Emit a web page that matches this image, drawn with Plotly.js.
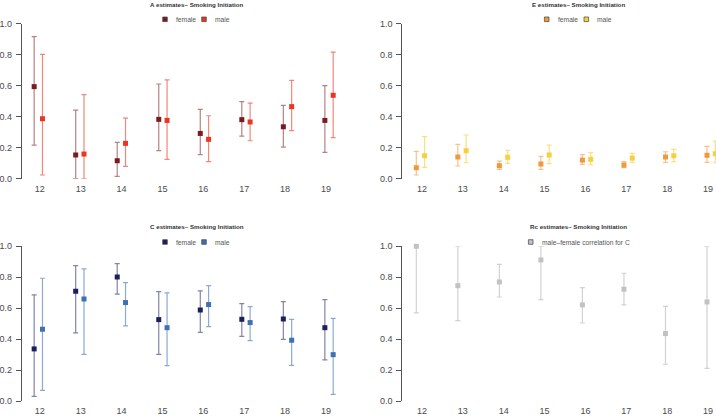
<!DOCTYPE html>
<html>
<head>
<meta charset="utf-8">
<script src="https://cdn.plot.ly/plotly-3.0.1.min.js"></script>
<style>html,body{margin:0;padding:0;background:#fff;}#chart{width:716px;height:418px;}</style>
</head>
<body>
<div id="chart"></div>
<script>
// ---- data ----
const ages = ['12','13','14','15','16','17','18','19'];

const aFemale   = [0.594,0.153,0.116,0.383,0.292,0.381,0.335,0.376];
const aFemaleLo = [0.217,0.000,0.015,0.181,0.155,0.275,0.204,0.170];
const aFemaleHi = [0.916,0.443,0.234,0.611,0.447,0.497,0.473,0.600];
const aMale     = [0.387,0.159,0.228,0.376,0.254,0.366,0.465,0.538];
const aMaleLo   = [0.024,0.000,0.080,0.125,0.110,0.245,0.310,0.265];
const aMaleHi   = [0.802,0.542,0.391,0.637,0.406,0.488,0.634,0.817];

const eFemale   = [0.071,0.140,0.084,0.095,0.120,0.088,0.140,0.151];
const eFemaleLo = [0.024,0.082,0.060,0.060,0.092,0.071,0.105,0.105];
const eFemaleHi = [0.176,0.222,0.114,0.144,0.155,0.110,0.174,0.209];
const eMale     = [0.148,0.181,0.138,0.153,0.125,0.133,0.148,0.161];
const eMaleLo   = [0.073,0.103,0.099,0.097,0.090,0.105,0.110,0.103];
const eMaleHi   = [0.271,0.282,0.183,0.217,0.168,0.163,0.189,0.243];

const cFemale   = [0.338,0.710,0.802,0.527,0.589,0.529,0.531,0.475];
const cFemaleLo = [0.032,0.441,0.692,0.303,0.445,0.419,0.400,0.267];
const cFemaleHi = [0.686,0.875,0.888,0.708,0.712,0.630,0.643,0.656];
const cMale     = [0.465,0.660,0.637,0.475,0.624,0.508,0.394,0.301];
const cMaleLo   = [0.071,0.303,0.486,0.230,0.482,0.391,0.232,0.045];
const cMaleHi   = [0.794,0.854,0.766,0.699,0.746,0.611,0.529,0.535];

const rc   = [1.000,0.746,0.770,0.912,0.622,0.723,0.437,0.641];
const rcLo = [0.570,0.520,0.673,0.656,0.505,0.622,0.239,0.213];
const rcHi = [1.000,1.000,0.884,1.000,0.733,0.826,0.613,1.000];

const yTicks = [0,0.2,0.4,0.6,0.8,1.0];

// ---- styling ----
const W = 716, H = 418;
const px = v => v / W;
const py = v => 1 - v / H;
const FONT = 'Liberation Sans, Arial, Helvetica, sans-serif';

const idx = ages.map((_, i) => i);
const xF = idx.slice();
const xM = idx.map(i => i + 0.2);
const tickPos = idx.map(i => 0.137 + 0.984 * i);

function series(x, y, lo, hi, col, errCol, xa, ya, name) {
  return {
    type: 'scatter', mode: 'markers', name: name,
    x: x, y: y, xaxis: xa, yaxis: ya, cliponaxis: false, showlegend: false,
    marker: {symbol: 'square', size: 5, color: col},
    error_y: {type: 'data', symmetric: false,
      array: y.map((v, i) => hi[i] - v),
      arrayminus: y.map((v, i) => v - lo[i]),
      color: errCol, thickness: 1.2, width: 2.5},
    hoverinfo: 'x+y'
  };
}

const C = {
  aF: '#7a1c1f', aFe: 'rgba(122,28,31,0.55)',
  aM: '#ea3522', aMe: 'rgba(234,53,34,0.6)',
  eF: '#f0993c', eFe: 'rgba(240,153,60,0.6)',
  eM: '#f6d03e', eMe: 'rgba(246,208,62,0.65)',
  cF: '#1b1f5c', cFe: 'rgba(27,31,92,0.55)',
  cM: '#3f6fb4', cMe: 'rgba(63,111,180,0.6)',
  r: '#c2c2c2', re: 'rgba(190,190,190,0.7)'
};

const data = [
  series(xF, aFemale, aFemaleLo, aFemaleHi, C.aF, C.aFe, 'x', 'y', 'female'),
  series(xM, aMale, aMaleLo, aMaleHi, C.aM, C.aMe, 'x', 'y', 'male'),
  series(xF, eFemale, eFemaleLo, eFemaleHi, C.eF, C.eFe, 'x2', 'y2', 'female'),
  series(xM, eMale, eMaleLo, eMaleHi, C.eM, C.eMe, 'x2', 'y2', 'male'),
  series(xF, cFemale, cFemaleLo, cFemaleHi, C.cF, C.cFe, 'x3', 'y3', 'female'),
  series(xM, cMale, cMaleLo, cMaleHi, C.cM, C.cMe, 'x3', 'y3', 'male'),
  series(xF, rc, rcLo, rcHi, C.r, C.re, 'x4', 'y4', 'male\u2013female correlation for C')
];

const unit = 41.53;
function xax(leftPx, startUnit, rightPx) {
  const endUnit = startUnit + (rightPx - leftPx) / unit;
  return {
    domain: [px(leftPx), px(rightPx)], range: [startUnit, endUnit],
    showgrid: false, zeroline: false, showline: false, ticks: '',
    tickmode: 'array', tickvals: tickPos, ticktext: ages,
    tickfont: {family: FONT, size: 9, color: '#4a4a4a'},
    ticklabelstandoff: 3, fixedrange: true
  };
}
function yax(topPx, botPx, anchor) {
  return {
    domain: [py(botPx), py(topPx)], range: [0, 1], anchor: anchor,
    showgrid: false, zeroline: false, showline: true, linecolor: '#555', linewidth: 1,
    ticks: 'outside', ticklen: 5, tickwidth: 1, tickcolor: '#555',
    tickmode: 'array', tickvals: yTicks, tickformat: '.1f',
    tickfont: {family: FONT, size: 9, color: '#4a4a4a'},
    ticklabelstandoff: 2, fixedrange: true
  };
}

const layout = {
  width: W, height: H, autosize: false,
  margin: {l: 0, r: 0, t: 0, b: 0, pad: 0},
  paper_bgcolor: '#fff', plot_bgcolor: '#fff',
  showlegend: false,
  xaxis:  Object.assign(xax(21.7, -0.30, 354), {anchor: 'y'}),
  yaxis:  yax(23.7, 178.7, 'x'),
  xaxis2: Object.assign(xax(402.3, -0.337, 716), {anchor: 'y2'}),
  yaxis2: yax(23.7, 178.7, 'x2'),
  xaxis3: Object.assign(xax(21.7, -0.30, 354), {anchor: 'y3'}),
  yaxis3: yax(246.3, 401.3, 'x3'),
  xaxis4: Object.assign(xax(402.3, -0.337, 716), {anchor: 'y4'}),
  yaxis4: yax(246.3, 401.3, 'x4'),
  annotations: [],
  shapes: []
};

function title(text, cx, cy) {
  layout.annotations.push({xref: 'paper', yref: 'paper', x: px(cx), y: py(cy),
    xanchor: 'center', yanchor: 'middle', showarrow: false, text: '<b>' + text + '</b>',
    font: {family: FONT, size: 6.2, color: '#333'}});
}
function key(cx, cy, fill, label) {
  const s = 2.3;
  layout.shapes.push({type: 'rect', xref: 'paper', yref: 'paper',
    x0: px(cx - s), x1: px(cx + s), y0: py(cy + s), y1: py(cy - s),
    fillcolor: fill, line: {color: '#444', width: 0.7}});
  layout.annotations.push({xref: 'paper', yref: 'paper', x: px(cx + 9), y: py(cy),
    xanchor: 'left', yanchor: 'middle', showarrow: false, text: label,
    font: {family: FONT, size: 6.7, color: '#555'}});
}

title('A estimates\u2013 Smoking Initiation', 196.7, 4.5);
title('E estimates\u2013 Smoking Initiation', 578, 4.5);
title('C estimates\u2013 Smoking Initiation', 196.7, 226.9);
title('Rc estimates\u2013 Smoking Initiation', 578, 226.9);

key(165, 19.3, C.aF, 'female'); key(204, 19.3, C.aM, 'male');
key(546.7, 19.3, C.eF, 'female'); key(586.3, 19.3, C.eM, 'male');
key(165, 242, C.cF, 'female'); key(204, 242, C.cM, 'male');
key(530.7, 242, C.r, 'male\u2013female correlation for C');

Plotly.newPlot('chart', data, layout, {displayModeBar: false, staticPlot: true});
</script>
</body>
</html>
